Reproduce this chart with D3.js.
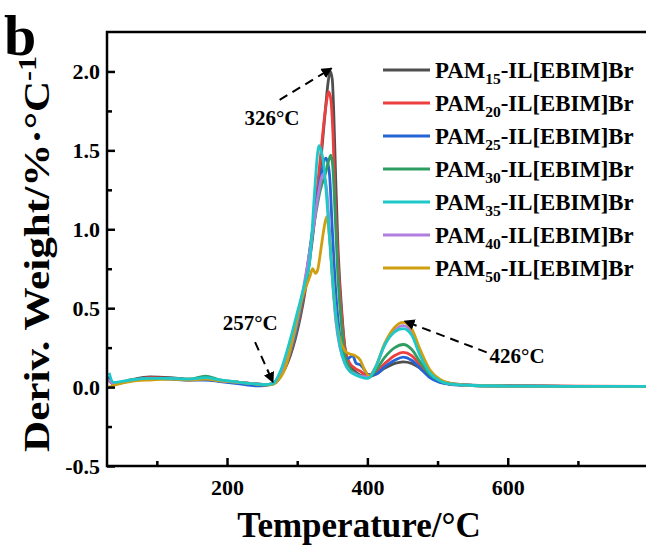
<!DOCTYPE html>
<html>
<head>
<meta charset="utf-8">
<style>
  body { margin: 0; background: #fff; }
  svg { display: block; font-family: "Liberation Serif", "Times New Roman", serif; font-weight: bold; }
</style>
</head>
<body>
<svg width="646" height="548"></svg>
<script src="https://d3js.org/d3.v7.min.js"></script>
<script>
  // series: [temperature on the drawn axis, deriv. weight]
  var pam15 = [[32,0.06],[38,0.02],[62,0.045],[90,0.065],[119,0.06],[147,0.05],[169,0.05],[190,0.04],[218,0.03],[240,0.02],[254,0.015],[265,0.02],
    [270,0.04],[283,0.12],[297,0.3],[311,0.6],[322,0.95],[333,1.4],[340,1.75],[344,1.93],[347,2.0],[350,1.95],[352,1.75],[355,1.3],[358,0.9],[364,0.45],
    [368,0.25],[375,0.14],[382,0.1],[390,0.075],[401,0.065],[411,0.08],[425,0.12],[439,0.15],[451,0.16],[463,0.15],[475,0.12],[489,0.07],[503,0.04],
    [517,0.025],[550,0.012],[617,0.008],[700,0.005],[797,0.005]];
  var pam20 = [[32,0.04],[38,0.02],[62,0.04],[90,0.06],[119,0.055],[147,0.045],[169,0.055],[190,0.04],[218,0.03],[240,0.02],[254,0.015],[265,0.02],
    [270,0.04],[283,0.13],[297,0.32],[311,0.62],[322,0.98],[333,1.45],[340,1.75],[345,1.87],[348,1.82],[351,1.6],[354,1.2],[358,0.8],[364,0.42],
    [368,0.25],[375,0.15],[382,0.12],[390,0.1],[401,0.07],[411,0.09],[425,0.15],[439,0.2],[451,0.22],[463,0.2],[475,0.14],[489,0.07],[503,0.035],
    [517,0.02],[550,0.01],[617,0.007],[797,0.004]];
  var pam25 = [[32,0.07],[38,0.02],[62,0.04],[90,0.055],[119,0.05],[147,0.045],[169,0.045],[190,0.035],[218,0.02],[240,0.008],[254,0.01],[265,0.02],
    [270,0.03],[283,0.13],[297,0.33],[311,0.65],[322,1.0],[333,1.32],[341,1.45],[346,1.35],[350,1.0],[355,0.6],[360,0.35],[366,0.22],[372,0.18],
    [379,0.2],[384,0.15],[390,0.14],[394,0.12],[401,0.08],[411,0.08],[425,0.13],[439,0.17],[451,0.19],[463,0.17],[475,0.12],[489,0.06],[503,0.03],
    [517,0.018],[550,0.01],[617,0.006],[797,0.004]];
  var pam30 = [[32,0.05],[38,0.02],[62,0.04],[90,0.055],[119,0.055],[147,0.05],[169,0.07],[190,0.045],[218,0.03],[240,0.02],[254,0.015],[265,0.02],
    [270,0.04],[283,0.14],[297,0.34],[311,0.66],[322,0.98],[333,1.25],[340,1.35],[344,1.42],[348,1.47],[351,1.38],[354,1.1],[358,0.7],[364,0.35],
    [368,0.2],[375,0.12],[382,0.09],[390,0.07],[401,0.06],[411,0.1],[425,0.19],[439,0.25],[451,0.27],[463,0.24],[475,0.16],[489,0.08],[503,0.04],
    [517,0.02],[550,0.01],[617,0.006],[797,0.004]];
  var pam35 = [[32,0.09],[38,0.03],[62,0.045],[90,0.055],[119,0.055],[147,0.05],[169,0.06],[190,0.045],[218,0.03],[240,0.02],[254,0.015],[265,0.02],
    [276,0.1],[290,0.3],[300,0.47],[311,0.66],[318,0.8],[325,1.25],[329,1.48],[331,1.53],[334,1.5],[338,1.4],[342,1.2],[346,0.95],[350,0.7],
    [355,0.45],[361,0.26],[368,0.15],[375,0.1],[382,0.08],[390,0.065],[398,0.055],[403,0.06],[411,0.12],[425,0.27],[439,0.35],[451,0.37],[463,0.33],
    [475,0.2],[489,0.09],[503,0.04],[517,0.02],[550,0.01],[617,0.006],[797,0.004]];
  var pam40 = [[32,0.05],[38,0.02],[62,0.04],[90,0.055],[119,0.055],[147,0.045],[169,0.055],[190,0.04],[218,0.03],[240,0.02],[254,0.015],[265,0.02],
    [270,0.04],[283,0.14],[297,0.36],[311,0.68],[322,0.98],[330,1.22],[337,1.35],[342,1.25],[346,1.0],[350,0.7],[355,0.42],[361,0.25],[368,0.15],
    [375,0.1],[382,0.085],[390,0.07],[401,0.065],[411,0.12],[425,0.27],[439,0.36],[451,0.39],[463,0.35],[475,0.22],[489,0.1],[503,0.045],
    [517,0.022],[550,0.01],[617,0.006],[797,0.004]];
  var pam50 = [[32,0.0],[38,0.01],[62,0.035],[90,0.045],[119,0.05],[147,0.045],[169,0.05],[190,0.04],[218,0.03],[240,0.02],[254,0.012],[265,0.015],
    [270,0.03],[283,0.12],[297,0.38],[306,0.55],[318,0.7],[322,0.75],[326,0.72],[329,0.74],[334,0.88],[338,1.0],[342,1.08],[346,0.95],[350,0.72],
    [355,0.45],[361,0.3],[368,0.23],[375,0.21],[382,0.2],[390,0.17],[396,0.11],[403,0.07],[411,0.12],[425,0.28],[439,0.38],[451,0.41],[463,0.37],
    [475,0.24],[489,0.11],[503,0.05],[517,0.025],[550,0.01],[617,0.006],[797,0.004]];

  var seriesNames = ["15", "20", "25", "30", "35", "40", "50"];
  var seriesData = [pam15, pam20, pam25, pam30, pam35, pam40, pam50];
  var colors = ["#4f4f4f", "#ee3f3f", "#2464d6", "#2f9d62", "#1ec8c8", "#b07ee0", "#d09f10"];
  var drawOrder = [0, 1, 2, 3, 5, 6, 4];

  var yTicks = [-0.5, 0.0, 0.5, 1.0, 1.5, 2.0];
  var yMinor = [-0.25, 0.25, 0.75, 1.25, 1.75];
  var xTicks = [200, 400, 600];
  var xMinor = [100, 300, 500, 700];

  // annotations: [label, text T, text value, arrow start T, start value, tip T, tip value]
  var notes = [
    ["326°C", 264, 1.66, 275, 1.82, 349, 2.02],
    ["257°C", 233, 0.36, 240, 0.285, 265.5, 0.03],
    ["426°C", 574, 0.15, 570, 0.22, 453, 0.418]
  ];

  var svg = d3.select("svg");
  var x = d3.scaleLinear().domain([29, 797]).range([107, 646]);
  var y = d3.scaleLinear().domain([-0.5, 2.25]).range([466, 32]);

  svg.append("defs").append("clipPath").attr("id", "clip")
    .append("rect").attr("x", 107).attr("y", 32).attr("width", 539).attr("height", 434);
  svg.select("defs").append("marker")
      .attr("id", "head").attr("viewBox", "0 0 10 10").attr("refX", 9).attr("refY", 5)
      .attr("markerWidth", 5.5).attr("markerHeight", 5.5).attr("orient", "auto")
    .append("path").attr("d", "M0,0L10,5L0,10z").attr("fill", "#000");

  var line = d3.line()
      .x(function(d) { return x(d[0]); })
      .y(function(d) { return y(d[1]); })
      .curve(d3.curveMonotoneX);

  var plot = svg.append("g").attr("clip-path", "url(#clip)");
  drawOrder.forEach(function(i) {
    plot.append("path")
      .datum(seriesData[i])
      .attr("fill", "none")
      .attr("stroke", colors[i])
      .attr("stroke-width", 2.8)
      .attr("stroke-linejoin", "round")
      .attr("d", line);
  });

  // axes
  svg.append("g").attr("transform", "translate(107,0)")
      .call(d3.axisLeft(y).tickValues(yTicks).tickSize(-8).tickPadding(7)
        .tickFormat(function(d) { return d.toFixed(1); }));
  svg.append("g").attr("transform", "translate(107,0)")
      .call(d3.axisLeft(y).tickValues(yMinor).tickSize(-5).tickFormat(""));
  svg.append("g").attr("transform", "translate(0,466)")
      .call(d3.axisBottom(x).tickValues(xTicks).tickSize(-8).tickPadding(13));
  svg.append("g").attr("transform", "translate(0,466)")
      .call(d3.axisBottom(x).tickValues(xMinor).tickSize(-5).tickFormat(""));
  svg.selectAll(".domain").remove();
  svg.selectAll(".tick line").attr("stroke", "#000").attr("stroke-width", 2.5);
  svg.selectAll(".tick text").attr("fill", "#000").attr("font-size", 22)
    .attr("font-family", "Liberation Serif, Times New Roman, serif").attr("font-weight", "bold");

  svg.append("path")
    .attr("d", "M646," + y(2.25) + "H" + x(29) + "V" + y(-0.5) + "H646")
    .attr("fill", "none").attr("stroke", "#000").attr("stroke-width", 2.5);

  // titles
  svg.append("text").attr("x", 359).attr("y", 537).attr("text-anchor", "middle")
    .attr("font-size", 35).text("Temperature/°C");
  var yt = svg.append("text").attr("transform", "translate(49,254) rotate(-90)")
    .attr("text-anchor", "middle").attr("font-size", 36)
    .attr("textLength", 396).attr("lengthAdjust", "spacingAndGlyphs");
  yt.append("tspan").text("Deriv. Weight/%·°C");
  yt.append("tspan").attr("dy", -13).attr("font-size", 25).text("-1");
  svg.append("text").attr("x", 4).attr("y", 55).attr("font-size", 58).text("b");

  // annotations
  notes.forEach(function(n, i) {
    svg.append("line")
      .attr("x1", x(n[3])).attr("y1", y(n[4])).attr("x2", x(n[5])).attr("y2", y(n[6]))
      .attr("stroke", "#000").attr("stroke-width", 2).attr("stroke-dasharray", "9,6")
      .attr("marker-end", "url(#head)");
    svg.append("text").attr("x", x(n[1])).attr("y", y(n[2]))
      .attr("text-anchor", i === 2 ? "start" : "middle")
      .attr("font-size", 21).text(n[0]);
  });

  // legend
  var legend = svg.append("g");
  seriesNames.forEach(function(name, i) {
    var ly = 70 + i * 33;
    legend.append("line").attr("x1", 383).attr("x2", 430).attr("y1", ly).attr("y2", ly)
      .attr("stroke", colors[i]).attr("stroke-width", 3);
    var t = legend.append("text").attr("x", 435).attr("y", ly + 8).attr("font-size", 22.8);
    t.append("tspan").text("PAM");
    t.append("tspan").attr("dy", 6).attr("font-size", 15.5).text(name);
    t.append("tspan").attr("dy", -6).text("-IL[EBIM]Br");
  });
</script>
</body>
</html>
